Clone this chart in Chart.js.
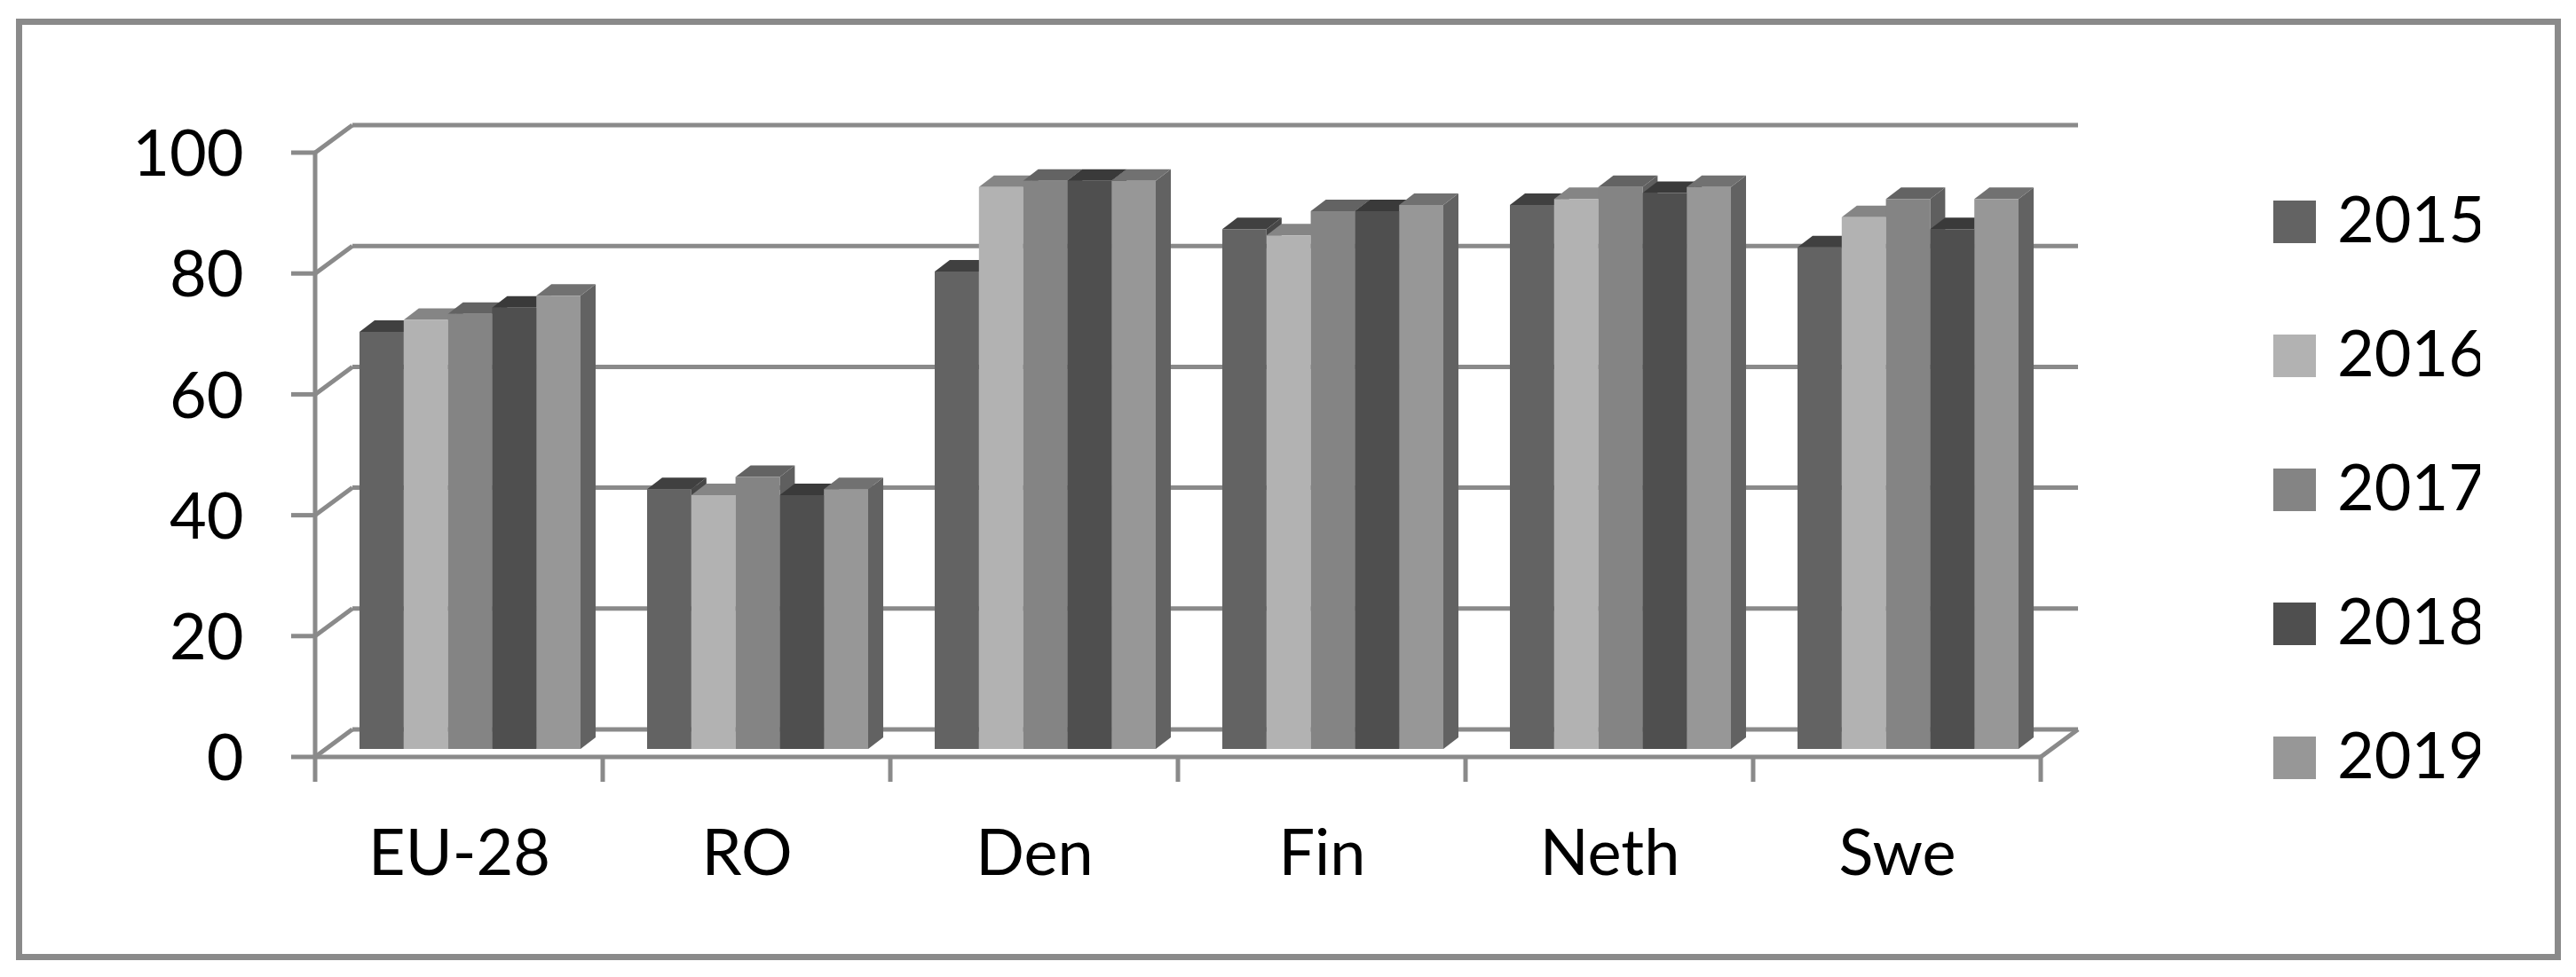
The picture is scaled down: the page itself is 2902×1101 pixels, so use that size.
<!DOCTYPE html>
<html>
<head>
<meta charset="utf-8">
<title>Chart</title>
<script src="https://cdn.jsdelivr.net/npm/chart.js@4/dist/chart.umd.min.js"></script>
<style>
  body { margin: 0; background: #fff; }
  canvas { display: block; }
</style>
</head>
<body>
<canvas id="myChart" width="2902" height="1101"></canvas>
<script>
var categories = ['EU-28', 'RO', 'Den', 'Fin', 'Neth', 'Swe'];
var years = ['2015', '2016', '2017', '2018', '2019'];
var values2015 = [69, 43, 79, 86, 90, 83];
var values2016 = [71, 42, 93, 85, 91, 88];
var values2017 = [72, 45, 94, 89, 93, 91];
var values2018 = [73, 42, 94, 89, 92, 86];
var values2019 = [75, 43, 94, 90, 93, 91];
var yTicks = [0, 20, 40, 60, 80, 100];

var frontColors = ['#636363', '#b2b2b2', '#848484', '#4f4f4f', '#979797'];
var topColors = ['#404040', '#858585', '#636363', '#3a3a3a', '#717171'];
var sideColors = ['#474747', '#7c7c7c', '#5f5f5f', '#373737', '#626262'];

var lineColor = '#8a8a8a';
var fontName = 'Lato, Carlito, sans-serif';

// the bars stand in the middle of the floor, walls are in front of / behind them
var barDepthX = 17, barDepthY = 13;
var wallOffX = 12.5, wallOffY = 9;
var floorX = 42, floorY = 31;

function line(ctx, x1, y1, x2, y2) {
  ctx.beginPath();
  ctx.moveTo(x1, y1);
  ctx.lineTo(x2, y2);
  ctx.stroke();
}

function poly(ctx, pts, color) {
  ctx.fillStyle = color;
  ctx.beginPath();
  ctx.moveTo(pts[0][0], pts[0][1]);
  for (var i = 1; i < pts.length; i++) ctx.lineTo(pts[i][0], pts[i][1]);
  ctx.closePath();
  ctx.fill();
}

var frame3d = {
  id: 'frame3d',
  afterLayout: function (chart) {
    // legend sits away from the plot
    var lg = chart.legend;
    lg.left = 2494;
    lg.right = 2794;
    lg.top = 135;
    lg.bottom = 1101;
  },
  beforeDraw: function (chart) {
    var ctx = chart.ctx;
    ctx.save();
    ctx.fillStyle = '#fff';
    ctx.fillRect(0, 0, chart.width, chart.height);
    ctx.strokeStyle = lineColor;
    ctx.lineWidth = 7;
    ctx.strokeRect(21.5, 24.5, 2860, 1054);
    ctx.restore();
  },
  beforeDatasetsDraw: function (chart) {
    var ctx = chart.ctx, xs = chart.scales.x, ys = chart.scales.y;
    var band = xs.getPixelForTick(1) - xs.getPixelForTick(0);
    var left = xs.getPixelForTick(0) - band / 2 - wallOffX;
    var right = left + band * categories.length;
    var zero = ys.getPixelForValue(0) + wallOffY;

    ctx.save();
    ctx.strokeStyle = lineColor;
    ctx.lineWidth = 5;

    yTicks.forEach(function (v) {
      var y = ys.getPixelForValue(v) + wallOffY;
      line(ctx, left + floorX, y - floorY, right + floorX, y - floorY);
      line(ctx, left, y, left + floorX, y - floorY);
      line(ctx, left - 27, y, left, y);
    });
    line(ctx, left, ys.getPixelForValue(100) + wallOffY, left, zero);
    line(ctx, left, zero, right, zero);
    line(ctx, right, zero, right + floorX, zero - floorY);
    for (var i = 0; i <= categories.length; i++) {
      var tx = left + band * i;
      line(ctx, tx, zero, tx, zero + 28);
    }

    // side and top faces, the library's bars go over them as front faces
    var base = ys.getPixelForValue(0);
    categories.forEach(function (c, ci) {
      years.forEach(function (yr, si) {
        var bar = chart.getDatasetMeta(si).data[ci];
        var l = bar.x - bar.width / 2, r = bar.x + bar.width / 2, t = bar.y;
        poly(ctx, [[r, t], [r + barDepthX, t - barDepthY], [r + barDepthX, base - barDepthY], [r, base]], sideColors[si]);
        poly(ctx, [[l, t], [l + barDepthX, t - barDepthY], [r + barDepthX, t - barDepthY], [r, t]], topColors[si]);
      });
    });
    ctx.restore();
  }
};

var allValues = [values2015, values2016, values2017, values2018, values2019];
var datasets = years.map(function (yr, i) {
  return {
    label: yr,
    data: allValues[i],
    backgroundColor: frontColors[i],
    borderWidth: 0,
    categoryPercentage: 0.7685,
    barPercentage: 1
  };
});

var myChart = new Chart(document.getElementById('myChart'), {
  type: 'bar',
  data: { labels: categories, datasets: datasets },
  plugins: [frame3d],
  options: {
    responsive: false,
    animation: false,
    layout: { padding: { left: 0, right: 290.5, top: 163, bottom: 0 } },
    plugins: {
      tooltip: { enabled: false },
      legend: {
        position: 'right',
        maxWidth: 300,
        align: 'start',
        labels: {
          boxWidth: 24,
          boxHeight: 24,
          padding: 79,
          color: '#000',
          font: { family: fontName, size: 72 },
          generateLabels: function (chart) {
            return Chart.defaults.plugins.legend.labels.generateLabels(chart).map(function (it) {
              it.strokeStyle = it.fillStyle;
              it.lineWidth = 24;
              return it;
            });
          }
        }
      }
    },
    scales: {
      x: {
        grid: { display: false },
        border: { display: false },
        afterFit: function (s) { s.height = 257; },
        ticks: {
          color: '#000',
          padding: 68,
          labelOffset: -12,
          maxRotation: 0,
          font: { family: fontName, size: 72 }
        }
      },
      y: {
        min: 0,
        max: 100,
        grid: { display: false },
        border: { display: false },
        afterFit: function (s) { s.width = 367.5; },
        afterBuildTicks: function (s) {
          s.ticks = yTicks.map(function (v) { return { value: v }; });
        },
        ticks: {
          color: '#000',
          padding: 85,
          labelOffset: 12,
          font: { family: fontName, size: 72 }
        }
      }
    }
  }
});
</script>
</body>
</html>
